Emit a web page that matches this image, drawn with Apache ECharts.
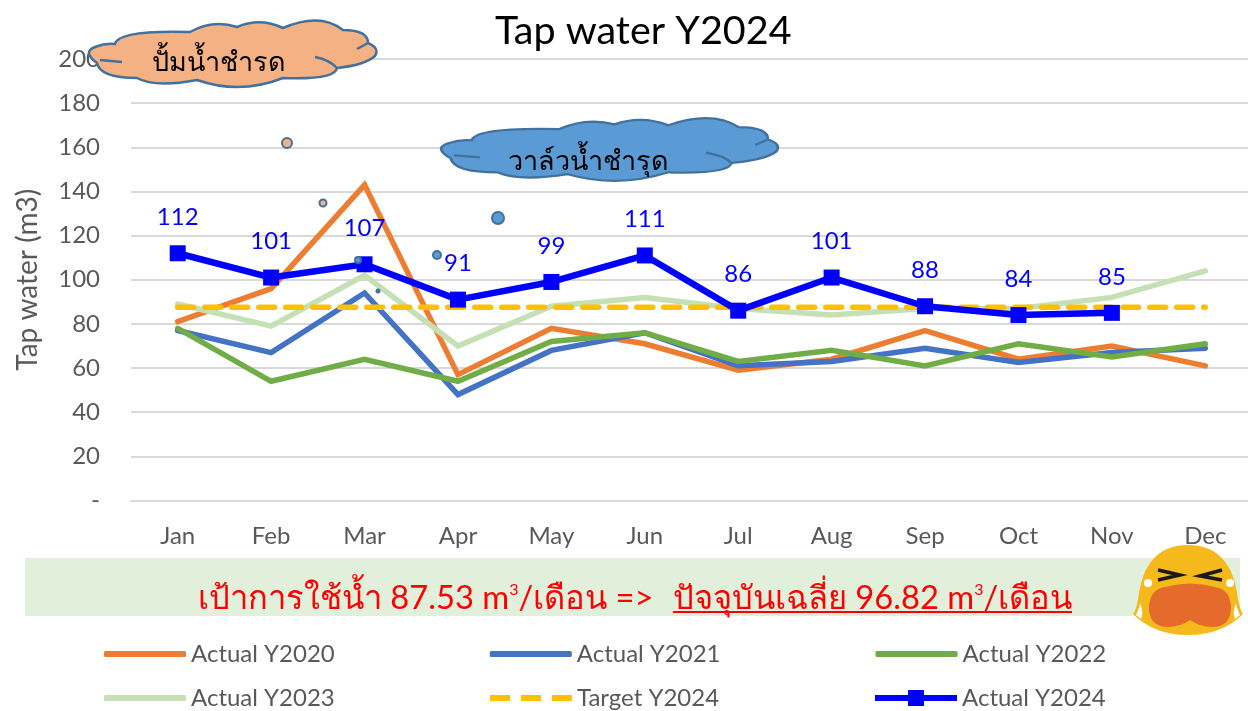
<!DOCTYPE html>
<html><head><meta charset="utf-8">
<style>html,body{margin:0;padding:0;background:#fff}#c{width:1248px;height:711px}</style>
<script src="https://cdn.jsdelivr.net/npm/echarts@6/dist/echarts.min.js"></script>
</head><body><div id="c"></div>
<script>
const months=['Jan','Feb','Mar','Apr','May','Jun','Jul','Aug','Sep','Oct','Nov','Dec'];
const y2020=[81,96,143,57,78,71,59,64,77,64,70,61];
const y2021=[77,67,94,48,68,76,61,63,69,62.5,67,69];
const y2022=[78,54,64,54,72,76,63,68,61,71,65,71];
const y2023=[89,79,102,70,88,92,87,84,87,87,92,104];
const target=[87.53,87.53,87.53,87.53,87.53,87.53,87.53,87.53,87.53,87.53,87.53,87.53];
const y2024=[112,101,107,91,99,111,86,101,88,84,85,null];
const FONT='Lato, "Noto Sans", sans-serif';
const GREY='#595959';
const EDGE='#41719C';
function reg(name,d){echarts.graphic.registerShape(name,echarts.graphic.extendPath(d,{}));}
reg('cloudShape','M115 44 Q118 30 190 32 Q213 19 237 27 Q260 17 283 28 Q320 12 343 30 Q368 30 368 43 Q380 48 375 56 Q365 65 337 68 Q335 80 283 78 Q240 95 197 80 Q155 88 137 78 Q100 78 97 63 Q82 52 95 47 Q105 43 115 44 Z M100 60 L122 62 M315 57 Q330 60 337 68 M357 49 L368 43');
reg('faceHead','M1188 545 Q1232 545 1238 600 Q1241 612 1243 614 Q1222 635 1188 635 Q1154 635 1133 614 Q1136 610 1138 600 Q1144 545 1188 545 Z');
reg('faceMouth','M1149 607 Q1150 589 1165 587 Q1190 580 1215 587 Q1230 589 1231 607 Q1231 627 1212 627 Q1200 627 1190 620 Q1180 627 1168 627 Q1149 627 1149 607 Z');
reg('faceTearL','M1136 615 Q1140 606 1140 603 Q1144 612 1141 619 Z');
reg('faceTearR','M1240 615 Q1236 606 1236 603 Q1232 612 1235 619 Z');
const ICON_DASH='path://M0 0H20V6H0Z M31 0H51V6H31Z M62 0H82V6H62Z';
const ICON_MARK='path://M0 5H33V0H49V5H82V11H49V16H33V11H0Z';
function line(name,data,color,extra){
  return Object.assign({name,type:'line',data,symbol:'none',smooth:false,
    lineStyle:{color,width:5.5,cap:'round',join:'miter'},itemStyle:{color},z:2},extra||{});
}
function dot(x,y,r,fill){
  return {type:'circle',shape:{cx:x,cy:y,r},style:{fill,stroke:EDGE,lineWidth:2},z:20};
}
function cloud(x,y,sx,sy,fill){
  return {type:'cloudShape',x,y,scaleX:sx,scaleY:sy,
    style:{fill,stroke:EDGE,lineWidth:2.5,strokeNoScale:true},z:20};
}
function label(x,y,text,size){
  return {type:'text',x,y,style:{text,font:size+'px '+FONT,fill:'#000'},z:21};
}
const redRich={s:{font:'16px '+FONT,fill:'#FF0000',verticalAlign:'top',padding:[0,0,14,0]}};
function red(x,text){
  return {type:'text',x,y:582,style:{text,font:'32.7px '+FONT,fill:'#FF0000',rich:redRich},z:6};
}
const legendText={color:GREY,fontSize:24,fontFamily:FONT,width:144};
function legend(names,left,top,icon,h,gap){
  return {data:names,left,top,icon,itemWidth:82,itemHeight:h,itemGap:gap,padding:0,textStyle:legendText};
}
const chart=echarts.init(document.getElementById('c'),null,{renderer:'canvas'});
chart.setOption({
  animation:false,backgroundColor:'#fff',
  textStyle:{fontFamily:FONT},
  title:{text:'Tap water Y2024',left:490,top:6,
    textStyle:{fontFamily:FONT,fontSize:39.5,fontWeight:'normal',color:'#000'}},
  grid:{left:131,top:59,width:1121,height:441.5,outerBoundsMode:'none'},
  xAxis:{type:'category',data:months,boundaryGap:true,
    axisLine:{lineStyle:{color:'#D9D9D9',width:2}},axisTick:{show:false},
    axisLabel:{color:GREY,fontSize:24,margin:24,fontFamily:FONT}},
  yAxis:{type:'value',min:0,max:200,interval:20,
    name:'Tap water (m3)',nameLocation:'middle',nameGap:89,
    nameTextStyle:{color:GREY,fontSize:28,fontFamily:FONT},
    axisLine:{show:false},axisTick:{show:false},
    axisLabel:{color:GREY,fontSize:24,margin:31,fontFamily:FONT,formatter:v=>v===0?'-':String(v)},
    splitLine:{lineStyle:{color:'#D9D9D9',width:2}}},
  legend:[
    legend(['Actual Y2020','Actual Y2021','Actual Y2022'],104,642,'roundRect',6,155),
    legend(['Actual Y2023'],104,686,'roundRect',6,155),
    legend(['Target Y2024'],490,686,ICON_DASH,6,155),
    legend(['Actual Y2024'],875,686,ICON_MARK,16,155)
  ],
  series:[
    line('Actual Y2020',y2020,'#ED7D31'),
    line('Actual Y2021',y2021,'#4472C4'),
    line('Actual Y2022',y2022,'#70AD47'),
    line('Actual Y2023',y2023,'#C5E0B4'),
    line('Target Y2024',target,'#FFC000',{lineStyle:{color:'#FFC000',width:5.5,type:[16,11],cap:'round'},z:3}),
    line('Actual Y2024',y2024,'#0000FF',{symbol:'rect',symbolSize:16,z:4,connectNulls:false,
      lineStyle:{color:'#0000FF',width:6.5},
      label:{show:true,position:'top',distance:16,color:'#0000FF',fontSize:24,fontFamily:FONT}})
  ],
  graphic:{elements:[
    {type:'rect',shape:{x:25,y:558,width:1215,height:58},style:{fill:'#E2EFDA'},z:5},
    red(198,'เป้าการใช้น้ำ 87.53 m{s|3}/เดือน =>'),
    red(673,'ปัจจุบันเฉลี่ย 96.82 m{s|3}/เดือน'),
    {type:'line',shape:{x1:673,y1:612,x2:1072,y2:612},style:{stroke:'#FF0000',lineWidth:2},z:6},
    cloud(0,0,1,1,'#F4B183'),
    label(152,49,'ปั้มน้ำชำรด',27),
    cloud(337,99,1.171,0.94,'#5B9BD5'),
    label(508,148,'วาล์วน้ำชำรุด',27),
    dot(287,143,5,'#F4B183'),dot(323,203,3.5,'#F4B183'),dot(358,260,3,'#5B9BD5'),dot(378,291,1.5,'#5B9BD5'),
    dot(437,255,4,'#5B9BD5'),dot(498,218,6,'#5B9BD5'),
    {type:'faceHead',style:{fill:'#F5B91B'},z:22},
    {type:'faceMouth',style:{fill:'#E56B2D'},z:23},
    {type:'polyline',shape:{points:[[1158,570],[1180,575],[1158,580]]},style:{fill:'none',stroke:'#1A1A1A',lineWidth:3.5},z:23},
    {type:'polyline',shape:{points:[[1222,570],[1200,576],[1222,580]]},style:{fill:'none',stroke:'#1A1A1A',lineWidth:3.5},z:23},
    {type:'circle',shape:{cx:1148,cy:583,r:4},style:{fill:'#fff'},z:23},
    {type:'circle',shape:{cx:1230,cy:583,r:4},style:{fill:'#fff'},z:23},
    {type:'faceTearL',style:{fill:'#fff'},z:23},
    {type:'faceTearR',style:{fill:'#fff'},z:23}
  ]}
});
</script></body></html>
